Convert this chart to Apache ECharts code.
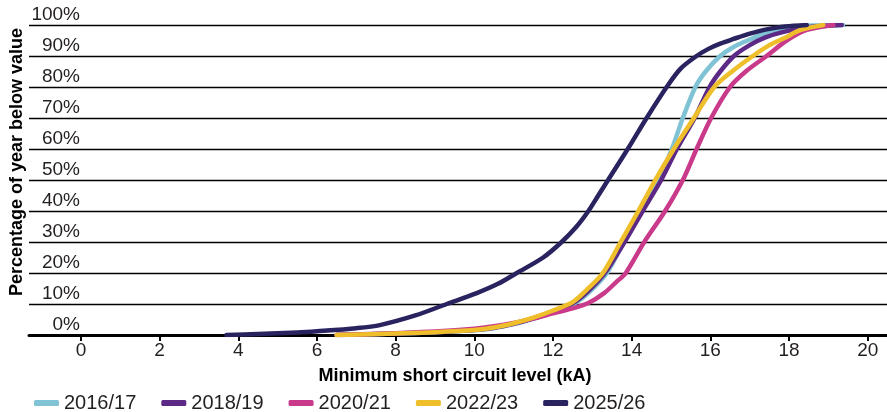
<!DOCTYPE html>
<html>
<head>
<meta charset="utf-8">
<script src="https://cdn.jsdelivr.net/npm/echarts@6/dist/echarts.min.js"></script>
<style>html,body{margin:0;padding:0;background:#fff}#c{width:887px;height:412px}</style>
</head>
<body>
<div id="c"></div>
<script>
const seriesNames = ['2016/17', '2018/19', '2020/21', '2022/23', '2025/26'];
const xTicks = [0, 2, 4, 6, 8, 10, 12, 14, 16, 18, 20];

const x2016 = [6.5, 8, 9, 10, 10.5, 11, 11.5, 12, 12.5, 12.9, 13.37, 13.8, 14.25, 14.68, 15.02, 15.3, 15.62, 15.88, 16.25, 16.6, 17.0, 17.43, 17.9, 18.4, 19.37];
const y2016 = [0, 0.5, 0.9, 1.5, 2.2, 3.5, 5.2, 7.3, 9.8, 13.6, 20, 30, 40, 50, 60, 70, 80, 85, 90, 93, 95.3, 97.5, 98.9, 99.7, 100];

const x2018 = [6.5, 8, 9, 10, 10.5, 11, 11.5, 12, 12.5, 12.88, 13.32, 13.82, 14.28, 14.75, 15.15, 15.6, 15.98, 16.25, 16.6, 17.0, 17.4, 17.86, 18.5, 19.34];
const y2018 = [0, 0.5, 0.9, 1.6, 2.3, 3.6, 5.4, 7.6, 10.2, 14, 20, 30, 40, 50, 60, 70, 80, 85, 90, 93.5, 96, 97.8, 99.3, 100];

const x2020 = [6.5, 8, 9, 10, 10.5, 11, 11.5, 12, 12.5, 12.9, 13.3, 13.6, 13.85, 14.32, 14.85, 15.3, 15.65, 16.02, 16.5, 16.9, 17.43, 17.94, 18.45, 19.13];
const y2020 = [0, 0.6, 1.1, 2, 2.8, 3.9, 5.3, 7, 8.6, 10.3, 13.5, 17, 20, 30, 40, 50, 60, 70, 80, 85, 90, 95, 98.4, 100];

const x2022 = [6.5, 8, 9, 10, 10.5, 11, 11.5, 12, 12.5, 12.85, 13.27, 13.72, 14.17, 14.6, 15.07, 15.58, 16.1, 16.55, 17.08, 17.5, 17.9, 18.3, 18.87];
const y2022 = [0, 0.5, 0.9, 1.6, 2.4, 3.8, 5.6, 7.9, 10.6, 14.5, 20, 30, 40, 50, 60, 70, 80, 85, 90, 93.5, 95.9, 98.4, 100];

const x2025 = [3.7, 4.5, 5.5, 6, 7, 7.6, 8.5, 9.3, 10.06, 10.6, 11.08, 11.75, 12.22, 12.6, 12.9, 13.15, 13.4, 13.9, 14.38, 14.89, 15.25, 15.65, 15.95, 16.25, 16.59, 17.0, 17.43, 17.9, 18.45];
const y2025 = [0, 0.3, 0.8, 1.2, 2.2, 3.2, 6.3, 10, 13.5, 16.5, 20, 25, 30, 35, 40, 45, 50, 60, 70, 80, 86, 90, 92.3, 94, 95.5, 97.2, 98.6, 99.5, 100];

const colors = ['#7fc3d5', '#5c2a86', '#c93a8a', '#efbf2b', '#29235f'];
const xs = [x2016, x2018, x2020, x2022, x2025];
const ys = [y2016, y2018, y2020, y2022, y2025];

const FONT = '"Liberation Sans", Arial, sans-serif';
const TXT = '#231f20';

const chart = echarts.init(document.getElementById('c'), null, {renderer: 'canvas'});
chart.setOption({
  animation: false,
  backgroundColor: '#fff',
  grid: {left: 29, right: 0, top: 25, bottom: 77, containLabel: false},
  xAxis: {
    type: 'value', min: -1.32, max: 20.49,
    axisLine: {show: true, lineStyle: {color: '#000', width: 3}},
    axisTick: {show: true, customValues: xTicks, length: 6, lineStyle: {color: '#000', width: 2}},
    axisLabel: {customValues: xTicks, color: TXT, fontSize: 19, fontFamily: FONT, margin: 6},
    splitLine: {show: false}
  },
  yAxis: {
    type: 'value', min: 0, max: 100, interval: 10,
    axisLine: {show: false}, axisTick: {show: false},
    axisLabel: {formatter: '{value}%', color: TXT, fontSize: 19, fontFamily: FONT,
      margin: -51, align: 'right', verticalAlign: 'bottom', padding: [0, 0, 1, 0]},
    splitLine: {show: true, lineStyle: {color: '#000', width: 1.3}}
  },
  legend: {
    left: 29, top: 388, itemWidth: 25, itemHeight: 6, itemGap: 25, icon: 'roundRect',
    textStyle: {color: TXT, fontSize: 20, fontFamily: FONT},
    data: seriesNames
  },
  graphic: [
    {type: 'text', x: 17, y: 162, rotation: Math.PI / 2,
      style: {text: 'Percentage of year below value', fill: '#000', font: 'bold 18px ' + FONT, textAlign: 'center', textVerticalAlign: 'middle'}},
    {type: 'text', x: 455, y: 376,
      style: {text: 'Minimum short circuit level (kA)', fill: '#000', font: 'bold 18px ' + FONT, textAlign: 'center', textVerticalAlign: 'middle'}}
  ],
  series: seriesNames.map((n, i) => ({
    name: n, type: 'line', showSymbol: false, smooth: 0.3,
    color: colors[i],
    lineStyle: {width: 4.5, color: colors[i], cap: 'round', join: 'round'},
    data: xs[i].map((x, j) => [x, ys[i][j]])
  }))
});
</script>
</body>
</html>
